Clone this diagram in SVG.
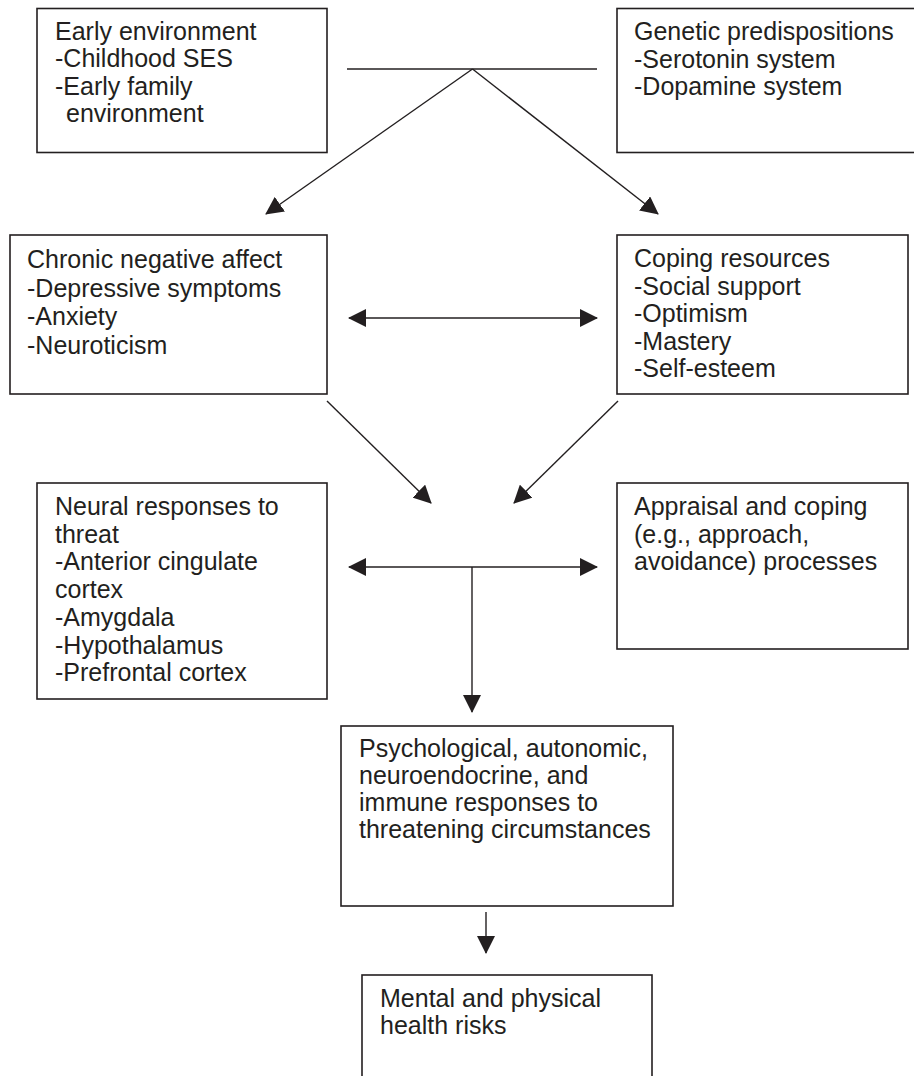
<svg xmlns="http://www.w3.org/2000/svg" width="914" height="1076" viewBox="0 0 914 1076">
<style>
  .box { fill: #ffffff; stroke: #231f20; stroke-width: 1.6; }
  .lbl { font-family: "Liberation Sans", Arial, Helvetica, sans-serif; font-size: 25px; fill: #231f20; }
  .con { fill: none; stroke: #231f20; stroke-width: 1.4; }
</style>
<defs>
  <marker id="ah" viewBox="0 0 18 18" refX="17" refY="9" markerWidth="18" markerHeight="18" markerUnits="userSpaceOnUse" orient="auto-start-reverse">
    <path d="M0,0 L18,9 L0,18 Z" fill="#231f20"/>
  </marker>
</defs>
<rect width="914" height="1076" fill="#ffffff"/>

<g id="early-environment">
  <rect class="box" x="37" y="8.5" width="290" height="144"/>
  <text class="lbl" x="55" y="40"><tspan x="55">Early environment</tspan><tspan x="55" dy="27.3">-Childhood SES</tspan><tspan x="55" dy="27.3">-Early family</tspan><tspan x="66" dy="27.3">environment</tspan></text>
</g>

<g id="genetic-predispositions">
  <rect class="box" x="617" y="8.5" width="310" height="144"/>
  <text class="lbl" x="634" y="40"><tspan x="634">Genetic predispositions</tspan><tspan x="634" dy="27.5">-Serotonin system</tspan><tspan x="634" dy="27.5">-Dopamine system</tspan></text>
</g>

<g id="chronic-negative-affect">
  <rect class="box" x="10" y="235" width="317" height="159"/>
  <text class="lbl" x="27" y="268"><tspan x="27">Chronic negative affect</tspan><tspan x="27" dy="28.5">-Depressive symptoms</tspan><tspan x="27" dy="28.5">-Anxiety</tspan><tspan x="27" dy="28.5">-Neuroticism</tspan></text>
</g>

<g id="coping-resources">
  <rect class="box" x="617" y="235" width="291" height="159"/>
  <text class="lbl" x="634" y="267"><tspan x="634">Coping resources</tspan><tspan x="634" dy="27.5">-Social support</tspan><tspan x="634" dy="27.5">-Optimism</tspan><tspan x="634" dy="27.5">-Mastery</tspan><tspan x="634" dy="27.5">-Self-esteem</tspan></text>
</g>

<g id="neural-responses">
  <rect class="box" x="37" y="483" width="290" height="216"/>
  <text class="lbl" x="55" y="515"><tspan x="55">Neural responses to</tspan><tspan x="55" dy="27.7">threat</tspan><tspan x="55" dy="27.7">-Anterior cingulate</tspan><tspan x="55" dy="27.7">cortex</tspan><tspan x="55" dy="27.7">-Amygdala</tspan><tspan x="55" dy="27.7">-Hypothalamus</tspan><tspan x="55" dy="27.7">-Prefrontal cortex</tspan></text>
</g>

<g id="appraisal-coping">
  <rect class="box" x="617" y="483" width="291" height="166"/>
  <text class="lbl" x="634" y="515"><tspan x="634">Appraisal and coping</tspan><tspan x="634" dy="27.5">(e.g., approach,</tspan><tspan x="634" dy="27.5">avoidance) processes</tspan></text>
</g>

<g id="responses">
  <rect class="box" x="341" y="726" width="332" height="180"/>
  <text class="lbl" x="359" y="757"><tspan x="359">Psychological, autonomic,</tspan><tspan x="359" dy="27">neuroendocrine, and</tspan><tspan x="359" dy="27">immune responses to</tspan><tspan x="359" dy="27">threatening circumstances</tspan></text>
</g>

<g id="health-risks">
  <rect class="box" x="362" y="975" width="290" height="130"/>
  <text class="lbl" x="380" y="1007"><tspan x="380">Mental and physical</tspan><tspan x="380" dy="27">health risks</tspan></text>
</g>

<g id="connectors">
  <line class="con" x1="347" y1="69" x2="597" y2="69"/>
  <line class="con" x1="472.5" y1="69" x2="266" y2="214" marker-end="url(#ah)"/>
  <line class="con" x1="472.5" y1="69" x2="658" y2="214" marker-end="url(#ah)"/>
  <line class="con" x1="349" y1="318" x2="597" y2="318" marker-start="url(#ah)" marker-end="url(#ah)"/>
  <line class="con" x1="327" y1="401" x2="431" y2="503" marker-end="url(#ah)"/>
  <line class="con" x1="618" y1="401" x2="514" y2="503" marker-end="url(#ah)"/>
  <line class="con" x1="349" y1="567" x2="597" y2="567" marker-start="url(#ah)" marker-end="url(#ah)"/>
  <line class="con" x1="472" y1="567" x2="472" y2="712" marker-end="url(#ah)"/>
  <line class="con" x1="486" y1="912" x2="486" y2="953" marker-end="url(#ah)"/>
</g>
</svg>
